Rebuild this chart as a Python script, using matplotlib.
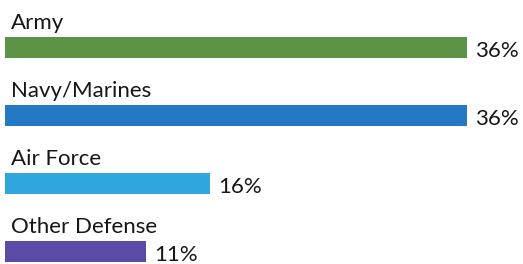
import matplotlib
matplotlib.use("Agg")
import matplotlib.pyplot as plt

categories = ["Army", "Navy/Marines", "Air Force", "Other Defense"]
values = [36, 36, 16, 11]
value_labels = ["36%", "36%", "16%", "11%"]
colors = ["#5b9447", "#2479c4", "#2fa6dd", "#5b4aa6"]

plt.rcParams['font.family'] = ['Lato', 'DejaVu Sans']

fig = plt.figure(figsize=(5.23, 2.64), dpi=100)
ax = fig.add_axes([0, 0, 1, 1])
ax.set_xlim(-0.39, 40.37)
ax.set_ylim(3.184, -0.699)
ax.axis('off')

ys = list(range(len(categories)))
ax.barh(ys, values, height=0.32, color=colors, left=0)
for y, cat, v, lab in zip(ys, categories, values, value_labels):
    ax.text(0.5, y - 0.27, cat, fontsize=16, va='baseline', ha='left', color='#161616')
    ax.text(v + 0.65, y + 0.14, lab, fontsize=16, va='baseline', ha='left', color='#161616')

fig.savefig("out.png", dpi=100)
